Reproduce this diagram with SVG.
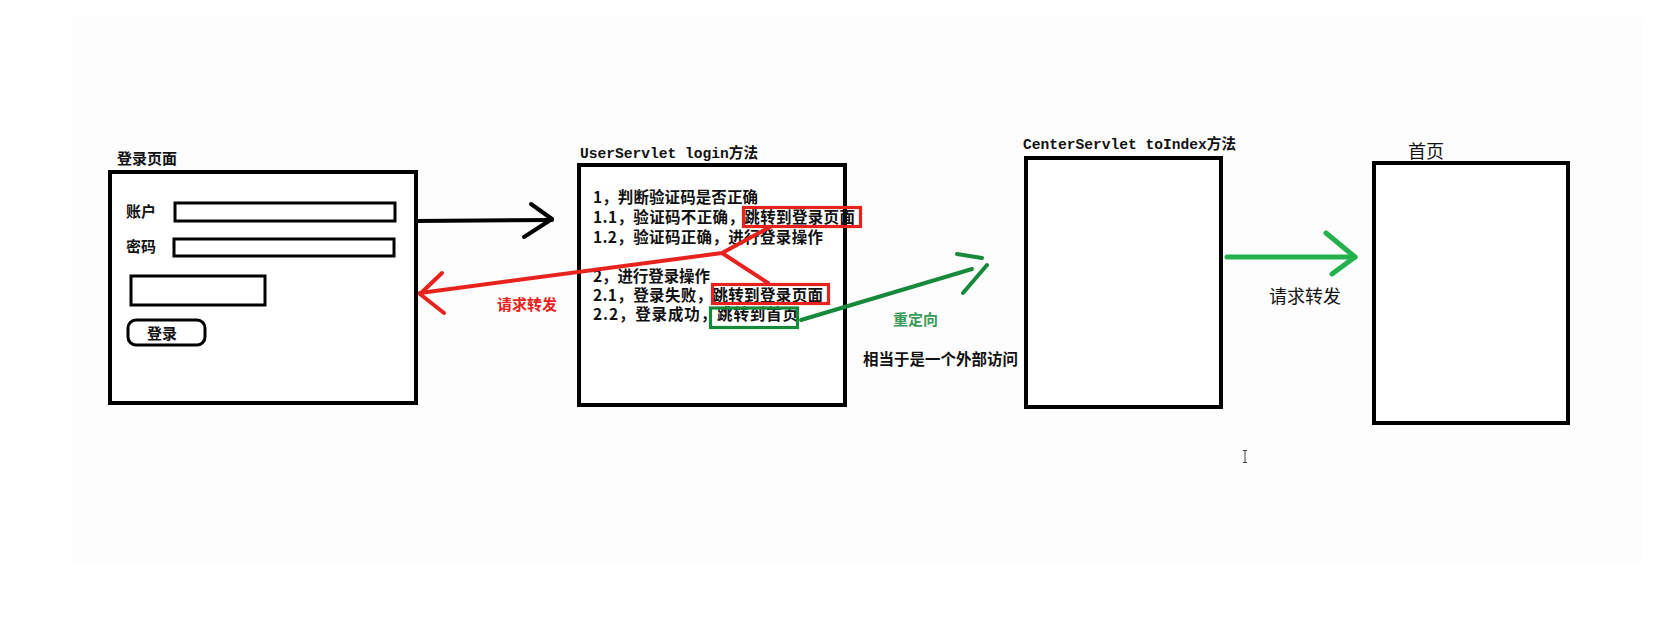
<svg xmlns="http://www.w3.org/2000/svg" width="1674" height="626" viewBox="0 0 1674 626">
<style>
.box{fill:#ffffff;stroke:#000000;stroke-width:4}
.field{fill:#ffffff;stroke:#000000;stroke-width:3}
.cjk{font-family:"Noto Sans CJK SC","Noto Sans",sans-serif;font-weight:700;fill:#111111}
.mono{font-family:"Liberation Mono","Noto Sans CJK SC",monospace;font-weight:700;fill:#111111}
.body{font-size:15.5px}
.redbox{fill:none;stroke:#e8231e;stroke-width:3.2}
.greenbox{fill:none;stroke:#168a3a;stroke-width:3.2}
.line{fill:none;stroke-linecap:round;stroke-linejoin:round}
.blk{stroke:#000000;stroke-width:4}
.red{stroke:#e8231e;stroke-width:4}
.dgreen{stroke:#168a3a;stroke-width:4}
.lgreen{stroke:#22b14c;stroke-width:5}
</style>
<rect x="0" y="0" width="1674" height="626" fill="#ffffff"/>
<rect x="71" y="17" width="1571" height="546" fill="#fdfdfd"/>

<g id="login-page">
  <text class="cjk" x="117" y="164" font-size="15">登录页面</text>
  <rect class="box" x="110" y="172" width="306" height="231"/>
  <text class="cjk" x="126" y="217" font-size="15">账户</text>
  <rect class="field" x="175" y="203" width="220" height="18"/>
  <text class="cjk" x="126" y="252" font-size="15">密码</text>
  <rect class="field" x="174" y="239" width="220" height="17"/>
  <rect class="field" x="131" y="276" width="134" height="29"/>
  <rect class="field" x="128" y="320" width="77" height="25" rx="8" ry="8"/>
  <text class="cjk" x="147" y="339" font-size="15">登录</text>
</g>

<g id="user-servlet">
  <text class="mono" x="580" y="158" font-size="14.6" textLength="178">UserServlet login方法</text>
  <rect class="box" x="579" y="165" width="266" height="240"/>
  <g class="cjk body">
    <text x="593" y="203" textLength="165">1，判断验证码是否正确</text>
    <text x="593" y="223" textLength="262">1.1，验证码不正确，跳转到登录页面</text>
    <text x="593" y="243" textLength="230">1.2，验证码正确，进行登录操作</text>
    <text x="593" y="282" textLength="117">2，进行登录操作</text>
    <text x="593" y="301" textLength="230">2.1，登录失败，跳转到登录页面</text>
    <text x="593" y="320" textLength="205">2.2，登录成功，跳转到首页</text>
  </g>
  <rect class="redbox" x="743.5" y="207.5" width="117" height="19"/>
  <rect class="redbox" x="712.5" y="284.5" width="116" height="19"/>
  <rect class="greenbox" x="710.5" y="308" width="87" height="19.5"/>
</g>

<g id="center-servlet">
  <text class="mono" x="1023" y="149" font-size="14.6" textLength="213">CenterServlet toIndex方法</text>
  <rect class="box" x="1026" y="158" width="195" height="249"/>
</g>

<g id="index-page">
  <text x="1408" y="158" font-size="18" font-family="Noto Sans CJK SC, sans-serif" fill="#111111">首页</text>
  <rect class="box" x="1374" y="163" width="194" height="260" stroke-width="4.5"/>
</g>

<g id="connectors">
  <path class="line blk" d="M416 221 L552 220"/>
  <path class="line blk" d="M531 204 L552 219 L524 237"/>
  <path class="line red" d="M420 293 L722 253 L770 227 M722 253 L768 283"/>
  <path class="line red" d="M442 273 L420 294 L444 313"/>
  <path class="line dgreen" d="M801 320 L972 269"/>
  <path class="line dgreen" d="M957 254 L982 258 M987 265 L963 293"/>
  <path class="line lgreen" d="M1227 257 L1355 257"/>
  <path class="line lgreen" d="M1326 233 L1355 257 L1332 274"/>
</g>

<g id="labels">
  <text class="cjk" x="497" y="310" font-size="15" style="fill:#e8231e">请求转发</text>
  <text class="cjk" x="893" y="325" font-size="15" style="fill:#3a9c5a">重定向</text>
  <text class="cjk" x="863" y="365" font-size="15.5" textLength="155">相当于是一个外部访问</text>
  <text x="1269" y="303" font-size="18" font-family="Noto Sans CJK SC, sans-serif" fill="#111111">请求转发</text>
</g>

<path d="M1243 450.5 H1247 M1245 450.5 V462.5 M1243 462.5 H1247" stroke="#444444" stroke-width="1" fill="none"/>
</svg>
